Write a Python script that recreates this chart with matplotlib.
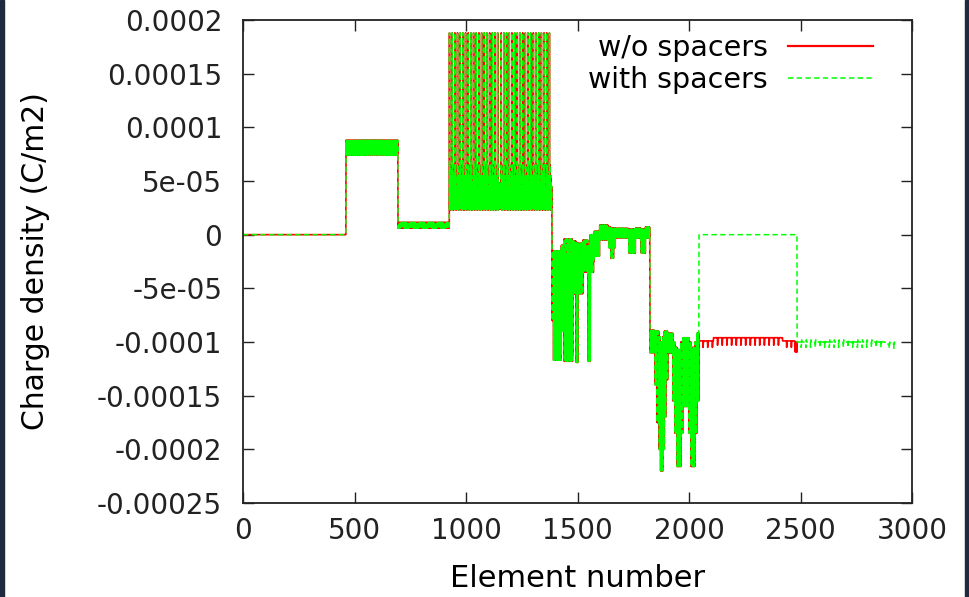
import numpy as np
import matplotlib.pyplot as plt
from matplotlib.patches import Rectangle

# each block: (first element, end element, values repeated over the block)
top_band = [1.88e-4, 2.4e-5, 6.5e-5, 2.3e-5, 4.0e-5, 2.6e-5,
            5.5e-5, 2.3e-5, 3.5e-5, 2.5e-5, 4.5e-5, 2.4e-5]

common_blocks = [
    (0, 462, [0.0]),
    (462, 695, [8.8e-5, 7.4e-5, 8.4e-5, 7.6e-5]),
    (695, 926, [1.15e-5, 0.6e-5, 1.0e-5, 0.7e-5]),
    (926, 1146, top_band),
    (1146, 1158, [4.8e-5, 2.5e-5, 4.0e-5, 2.4e-5]),
    (1158, 1386, top_band),
    (1386, 1392, [-1.5e-5, -8.0e-5]),
    (1392, 1428, [-1.5e-5, -1.17e-4, -2.5e-5, -1.12e-4]),
    (1428, 1440, [-1.0e-5, -9.0e-5]),
    (1440, 1480, [-4e-6, -1.18e-4, -2.0e-5, -1.12e-4]),
    (1480, 1494, [-6e-6, -5.5e-5]),
    (1494, 1502, [-8e-6, -1.19e-4]),
    (1502, 1525, [-8e-6, -5.5e-5, -2.0e-5, -4.5e-5]),
    (1525, 1548, [-5e-6, -3.5e-5, -1.5e-5, -3.0e-5]),
    (1548, 1558, [-1.0e-5, -1.18e-4]),
    (1558, 1575, [0.0, -3.5e-5, -1.0e-5, -2.5e-5]),
    (1575, 1600, [3e-6, -2.0e-5]),
    (1600, 1640, [9e-6, -5e-6, 6e-6, -2e-6]),
    (1640, 1650, [7e-6, -1.2e-5]),
    (1650, 1662, [6e-6, -2.2e-5]),
    (1662, 1670, [6e-6, -1.2e-5]),
    (1670, 1730, [6e-6, -3e-6, 4e-6, -1e-6]),
    (1730, 1760, [5e-6, -1.7e-5]),
    (1760, 1785, [6e-6, -3e-6]),
    (1785, 1805, [5e-6, -1.7e-5]),
    (1805, 1825, [7e-6, -3e-6]),
    (1825, 1848, [-8.9e-5, -1.1e-4, -9.5e-5, -1.05e-4]),
    (1848, 1856, [-9.0e-5, -1.4e-4]),
    (1856, 1866, [-9.0e-5, -1.75e-4]),
    (1866, 1872, [-9.5e-5, -2.0e-4]),
    (1872, 1884, [-1.0e-4, -2.2e-4]),
    (1884, 1890, [-9.5e-5, -2.0e-4]),
    (1890, 1897, [-9.0e-5, -1.7e-4]),
    (1897, 1905, [-9.0e-5, -1.35e-4]),
    (1905, 1928, [-9.2e-5, -1.1e-4]),
    (1928, 1937, [-1.0e-4, -1.55e-4]),
    (1937, 1946, [-1.05e-4, -1.85e-4]),
    (1946, 1964, [-1.07e-4, -2.16e-4, -1.1e-4, -2.05e-4]),
    (1964, 1973, [-1.0e-4, -1.85e-4]),
    (1973, 2000, [-9.6e-5, -1.6e-4]),
    (2000, 2009, [-1.0e-4, -1.85e-4]),
    (2009, 2027, [-1.05e-4, -2.16e-4, -1.1e-4, -2.05e-4]),
    (2027, 2036, [-1.0e-4, -1.85e-4]),
    (2036, 2045, [-9.2e-5, -1.55e-4]),
]

ripple_edge = [-9.9e-5] * 18 + [-1.05e-4, -1.02e-4, -9.9e-5]
ripple_mid = [-9.6e-5] * 18 + [-1.03e-4, -1.0e-4, -9.6e-5]
ripple_low = [-1.0e-4] * 18 + [-1.05e-4, -1.02e-4, -9.8e-5]

no_spacer_blocks = common_blocks + [
    (2045, 2110, ripple_edge),
    (2110, 2420, ripple_mid),
    (2420, 2475, ripple_edge),
    (2475, 2486, [-1.09e-4, -1.0e-4]),
]

spacer_blocks = common_blocks + [
    (2045, 2485, [0.0]),
    (2485, 2880, ripple_low),
    (2880, 2925, [-1.02e-4] * 18 + [-1.06e-4, -1.03e-4, -1.0e-4]),
]


def build(blocks):
    vals = []
    for start, end, pattern in blocks:
        for i in range(end - start):
            vals.append(pattern[i % len(pattern)])
    return np.arange(len(vals)), np.array(vals)


x1, y1 = build(no_spacer_blocks)
x2, y2 = build(spacer_blocks)

plt.rcParams['font.family'] = 'DejaVu Sans'
plt.rcParams['path.simplify'] = False  # keep every zig-zag of the dense traces

fig = plt.figure(figsize=(9.69, 5.97), dpi=100)
ax = fig.add_axes([243 / 969, 1 - 503 / 597, (912 - 243) / 969, (503 - 20) / 597])

ax.plot(x1, y1, color='#ff0000', lw=1.2, label='w/o spacers')
ax.plot(x2, y2, color='#00ff00', lw=1.1, ls=(0, (3.5, 2.2)), label='with spacers')

ax.set_xlim(0, 3000)
ax.set_ylim(-0.00025, 0.0002)
ax.set_xticks(np.arange(0, 3001, 500))
yt = np.arange(-0.00025, 0.00021, 0.00005)
ax.set_yticks(yt)
ylabels = ['-0.00025', '-0.0002', '-0.00015', '-0.0001', '-5e-05', '0',
           '5e-05', '0.0001', '0.00015', '0.0002']
ax.set_yticklabels(ylabels)
ax.tick_params(direction='in', length=8, width=1, top=True, right=True,
               labelsize=20, colors='#222222')
ax.tick_params(axis='y', pad=15)
ax.tick_params(axis='x', pad=10)
for s in ax.spines.values():
    s.set_linewidth(1.3)
    s.set_color('#222222')

ax.set_xlabel('Element number', fontsize=22)
ax.set_ylabel('Charge density (C/m2)', fontsize=21.5)
ax.xaxis.set_label_coords(0.5, -0.127)
ax.yaxis.set_label_coords(-0.288, 0.5)

leg = ax.legend(loc='upper right', bbox_to_anchor=(0.942, 0.972), frameon=False,
                markerfirst=False, fontsize=20.5, handlelength=3.0, handletextpad=0.7,
                labelspacing=0.15, borderpad=0, borderaxespad=0)
leg.get_lines()[0].set_linewidth(1.6)

# dark frame at the picture edges
fig.patches.append(Rectangle((0, 0), 4 / 969, 1, transform=fig.transFigure,
                             color='#1e2a3d', zorder=-1))
fig.patches.append(Rectangle((965 / 969, 0), 4 / 969, 1, transform=fig.transFigure,
                             color='#1e2a3d', zorder=-1))

fig.savefig('out.png', dpi=100)
